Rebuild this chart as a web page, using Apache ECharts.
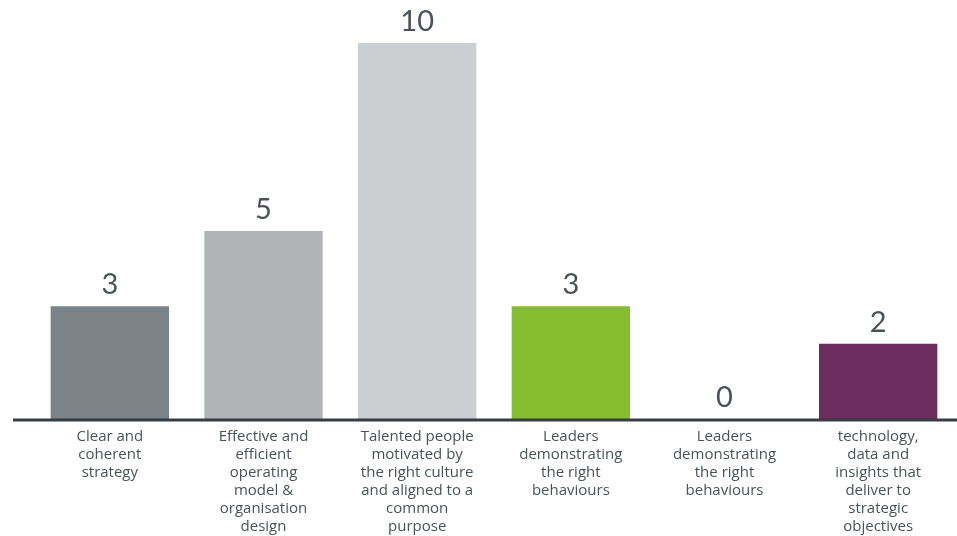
<!DOCTYPE html>
<html>
<head>
<meta charset="utf-8">
<script src="https://cdn.jsdelivr.net/npm/echarts@6/dist/echarts.min.js"></script>
<style>
  html, body { margin: 0; padding: 0; background: #fff; }
  #chart { width: 957px; height: 536px; }
</style>
</head>
<body>
<div id="chart"></div>
<script>
// data
var categories = [
  'Clear and\ncoherent\nstrategy',
  'Effective and\nefficient\noperating\nmodel &\norganisation\ndesign',
  'Talented people\nmotivated by\nthe right culture\nand aligned to a\ncommon\npurpose',
  'Leaders\ndemonstrating\nthe right\nbehaviours',
  'Leaders\ndemonstrating\nthe right\nbehaviours',
  'technology,\ndata and\ninsights that\ndeliver to\nstrategic\nobjectives'
]
var values = [3, 5, 10, 3, 0, 2]
var barColors = ['#7b8389', '#b0b4b7', '#cbcfd2', '#84bd2f', '#cccccc', '#6b2c5e']

var textColor = '#4b5259'
var chart = echarts.init(document.getElementById('chart'))

var option = {
  animation: false,
  grid: { left: 33, right: 2, top: 43, bottom: 113 },
  xAxis: {
    type: 'category',
    data: categories,
    axisLine: { show: false },
    axisTick: { show: false },
    axisLabel: {
      interval: 0,
      margin: 9,
      color: textColor,
      fontFamily: 'Open Sans',
      fontSize: 15,
      lineHeight: 18,
      align: 'center'
    }
  },
  yAxis: {
    type: 'value',
    min: 0,
    max: 10,
    show: false,
    splitLine: { show: false }
  },
  series: [{
    type: 'bar',
    data: values.map(function (v, i) {
      return { value: v, itemStyle: { color: barColors[i] } }
    }),
    barCategoryGap: '23%',
    label: {
      show: true,
      position: 'top',
      distance: 7,
      color: textColor,
      fontFamily: 'Lato',
      fontSize: 29
    }
  }]
}
chart.setOption(option)

// baseline runs across the whole width, a bit past the first category
var p0 = chart.convertToPixel({ gridIndex: 0 }, [0, 0])
chart.setOption({
  graphic: [{
    type: 'line',
    z: 10,
    shape: { x1: 13, y1: p0[1] + 1, x2: 957, y2: p0[1] + 1 },
    style: { stroke: '#363d45', lineWidth: 3 }
  }]
})
</script>
</body>
</html>
